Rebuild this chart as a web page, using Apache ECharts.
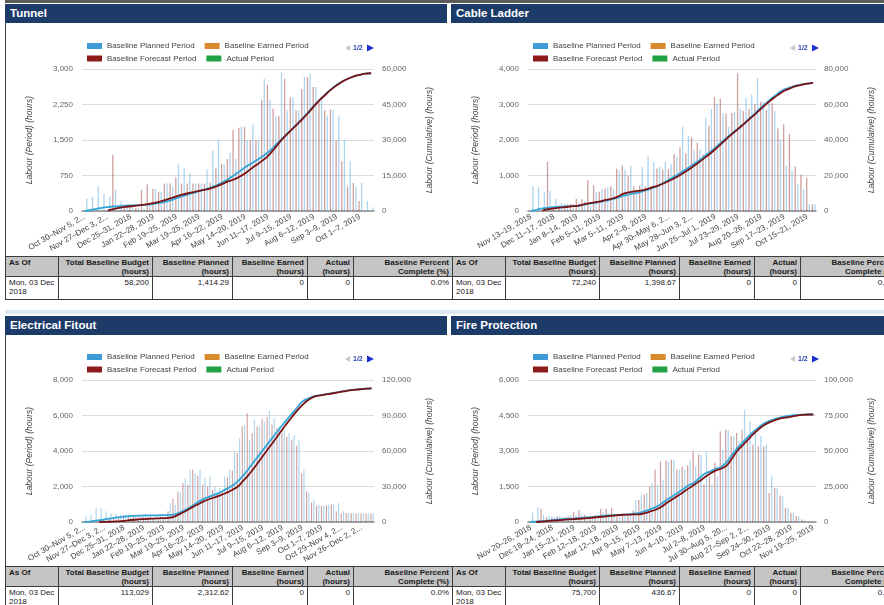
<!DOCTYPE html>
<html>
<head>
<meta charset="utf-8">
<script src="https://cdn.jsdelivr.net/npm/echarts@6.0.0/dist/echarts.min.js"></script>
<style>
html,body{margin:0;padding:0;}
body{width:884px;height:605px;overflow:hidden;position:relative;background:#fff;font-family:"Liberation Sans",Arial,sans-serif;}
.blk{position:absolute;}
.hdr{position:absolute;height:19px;line-height:19px;background:#1c3b69;color:#fff;font-weight:bold;font-size:11.5px;box-sizing:border-box;padding-left:5px;white-space:nowrap;overflow:hidden;}
.chart{position:absolute;width:442px;}
table.kpi{position:absolute;border-collapse:collapse;table-layout:fixed;width:447px;font-size:8px;color:#1a1a1a;}
table.kpi th, table.kpi td{border:1px solid #3c3c3c;padding:1px 3px 0 3px;line-height:9px;vertical-align:top;text-align:right;overflow:hidden;white-space:nowrap;}
table.kpi th{background:#c4c4c4;font-weight:bold;height:17px;}
table.kpi td{background:#fff;height:21px;}
table.kpi .l{text-align:left;}
</style>
</head>
<body>
<script>
// ---------- categories (weekly periods, Tue–Mon) ----------
const WEEKS = [
 'Oct 30–Nov 5, 2018','Nov 6–12, 2018','Nov 13–19, 2018','Nov 20–26, 2018','Nov 27–Dec 3, 2018',
 'Dec 4–10, 2018','Dec 11–17, 2018','Dec 18–24, 2018','Dec 25–31, 2018','Jan 1–7, 2019',
 'Jan 8–14, 2019','Jan 15–21, 2019','Jan 22–28, 2019','Jan 29–Feb 4, 2019','Feb 5–11, 2019',
 'Feb 12–18, 2019','Feb 19–25, 2019','Feb 26–Mar 4, 2019','Mar 5–11, 2019','Mar 12–18, 2019',
 'Mar 19–25, 2019','Mar 26–Apr 1, 2019','Apr 2–8, 2019','Apr 9–15, 2019','Apr 16–22, 2019',
 'Apr 23–29, 2019','Apr 30–May 6, 2019','May 7–13, 2019','May 14–20, 2019','May 21–27, 2019',
 'May 28–Jun 3, 2019','Jun 4–10, 2019','Jun 11–17, 2019','Jun 18–24, 2019','Jun 25–Jul 1, 2019',
 'Jul 2–8, 2019','Jul 9–15, 2019','Jul 16–22, 2019','Jul 23–29, 2019','Jul 30–Aug 5, 2019',
 'Aug 6–12, 2019','Aug 13–19, 2019','Aug 20–26, 2019','Aug 27–Sep 2, 2019','Sep 3–9, 2019',
 'Sep 10–16, 2019','Sep 17–23, 2019','Sep 24–30, 2019','Oct 1–7, 2019','Oct 8–14, 2019',
 'Oct 15–21, 2019','Oct 22–28, 2019','Oct 29–Nov 4, 2019','Nov 5–11, 2019','Nov 12–18, 2019',
 'Nov 19–25, 2019','Nov 26–Dec 2, 2019','Dec 3–9, 2019','Dec 10–16, 2019'
];
const tunnelCats = WEEKS.slice(0, 51);
const cableCats  = WEEKS.slice(2, 52);
const efCats     = WEEKS.slice(0, 59);
const fpCats     = WEEKS.slice(3, 56);

// ---------- Tunnel ----------
const tunnelPlanned = [260,300,520,360,310,450,210,100,80,60, 50,120,470,410,580,520,980,910,800,580,
 580,870,1280,1510,980,1230,1100,1780,1500,1830, 1500,2790,2350,2000,2930,2130,2400,2130,2830,2900,
 2620,2340,2020,2140,2020,1500,1050,520,590,210, 80];
const tunnelForecast = [0,0,0,0,0,1190,0,80,100,60, 440,560,470,410,580,580,700,580,580,580,
 580,580,600,900,1000,1100,1710,1760,1780,1500, 1500,2350,2670,2160,2000,2790,2400,2130,2580,2830,
 2620,2340,2130,2140,1500,1050,520,590,210,0, 0];
const tunnelCumPlanned = [0,500,900,1350,1650,1900,2100,2250,2350,2450, 2500,2700,3000,3400,3900,4500,5400,6200,7000,7700,
 8400,9100,9900,10800,12000,13400,15000,16700,18500,20000, 21500,23000,24800,27000,29500,31800,34200,36600,39100,41700,
 44400,47000,49300,51500,53300,54800,56000,56900,57500,58000, 58200];
const tunnelCumForecast = [null,null,null,null,200,800,1300,1700,2000,2300, 2550,2900,3300,3900,4600,5400,6200,6900,7500,8000,
 8500,9000,9600,10400,11400,12500,13300,14500,16000,17800, 19500,21300,23300,26000,29000,31700,34100,36400,38800,41400,
 44200,46800,49100,51300,53100,54700,55900,56900,57500,58000, 58200];

// ---------- Cable Ladder ----------
const cablePlanned = [700,670,530,560,340,220,200,200,250,280, 150,530,620,670,620,1135,1160,1275,500,1240,
 1545,1380,1240,1380,1320,1535,2370,2110,1720,1740, 2620,2875,3020,2760,2370,2800,2880,3190,3275,3750,
 3070,3040,2820,2020,1275,1145,745,620,190,190];
const cableForecast = [0,0,0,1380,100,150,180,200,345,330, 865,725,540,640,700,1190,1275,1000,700,715,
 700,700,1200,1160,1180,1600,1795,1630,2075,1925, 1600,2400,3210,3160,2745,2760,3880,2820,2880,3020,
 3070,2840,3040,2325,2440,2170,1255,1020,930,190];
const cableCumPlanned = [0,700,1450,1900,2200,2420,2550,2700,2850,3400, 4000,4500,5100,5800,6500,7400,8500,9300,10000,10700,
 11700,12900,14000,15800,17700,19500,21600,23700,25800,28000, 30500,33000,35500,38500,41300,44000,46500,49200,52300,55300,
 58300,61200,64000,66500,68500,69600,70600,71300,71800,72240];
const cableCumForecast = [null,null,300,1000,1500,1860,2200,2600,2900,3600, 4300,4800,5400,6200,6900,8000,9600,10500,11100,11500,
 12200,13200,14200,15500,17000,18600,20400,22500,24700,27000, 29500,32000,34800,37700,40700,43600,46300,49100,51900,54700,
 57700,60600,63200,65600,67700,69100,70300,71100,71700,72240];

// ---------- Electrical Fitout ----------
const efPlanned = [320,410,790,790,600,500,470,450,410,400, 380,370,350,340,330,320,300,1070,975,1670,
 2470,2940,2720,2940,2470,2570,2000,1910,2570,2940, 3970,4720,5470,4630,5750,5380,5660,6280,5850,5380,
 5190,5000,4900,4630,2940,1630,1255,975,920,975, 1000,1070,600,500,500,480,480,480,480];
const efForecast = [0,0,0,0,100,150,200,300,400,400, 350,300,280,250,200,200,200,600,1300,1720,
 2190,2100,2940,2600,2100,2000,1800,1600,1800,2500, 2900,3900,5380,6130,5000,5400,5790,5900,5500,5300,
 5000,4800,4630,4300,2750,1720,1100,920,900,950, 1000,600,500,500,500,480,480,480,480];
const efCumPlanned = [0,400,1000,1600,2100,2800,3500,4100,4500,4900, 5200,5400,5500,5600,5650,5700,5800,5900,6300,7600,
 9400,11500,14200,17000,19300,21000,22600,24200,26400,28600, 31000,34500,39000,44000,49700,55000,60500,65800,71300,76700,
 82000,87000,92000,97000,101700,104200,105800,106700,107400,108100, 108900,109600,110300,111000,111600,112000,112400,112700,113000];
const efCumForecast = [null,null,null,0,100,200,400,600,1000,1500, 1900,2200,2500,2750,2900,3100,3300,3450,4300,6200,
 8200,10600,13000,15000,17200,19000,20500,21800,23500,25200, 27500,30000,34500,39000,44200,49800,55500,61200,66800,72500,
 78300,83800,89200,94400,98800,102500,105100,106500,107300,108000, 108600,109300,110100,110800,111400,111900,112300,112700,113000];

// ---------- Fire Protection ----------
const fpPlanned = [390,630,300,250,230,240,230,280,300,350, 250,240,300,400,350,225,300,250,250,925,
 1120,1230,1650,1580,1800,2565,2635,2215,2215,2600, 2350,2850,2990,1580,1930,3060,3900,3620,3410,4740,
 4250,3900,3620,3270,1960,1440,1090,600,390,250, 110,0,0];
const fpForecast = [0,0,560,200,200,250,200,250,420,500, 300,250,300,560,560,600,300,250,300,500,
 925,1160,1500,2215,2565,2600,2635,2215,2350,2400, 2990,2850,1580,1930,2500,3830,3900,3620,3760,3900,
 3620,3270,3200,3200,1230,1440,1120,600,390,250, 110,0,0];
const fpCumPlanned = [0,300,600,900,1250,1750,2000,2250,2500,2800, 3100,3400,3800,4200,4600,4850,5000,5100,5300,5800,
 6500,7600,9000,10500,12700,15500,18000,20500,23000,25800, 27500,30800,34000,35500,37500,38500,42000,47000,51800,56000,
 60000,63600,66800,69500,71300,72600,73700,74500,75000,75400, 75600,75700,75700];
const fpCumForecast = [null,0,300,600,900,1200,1500,1800,2000,2300, 2600,2900,3300,3700,4000,4400,4800,5100,5200,5300,
 5400,6200,7400,8600,10500,13300,15800,18300,20800,23500, 26000,28600,31500,34000,36200,37500,39500,44500,50000,54000,
 58000,62000,65500,68300,70300,71800,72900,73600,74200,74900, 75400,75700,75700];

// ---------- axis scales ----------
const tunnelAxes = {leftMax: 3000, rightMax: 60000};
const cableAxes  = {leftMax: 4000, rightMax: 80000};
const efAxes     = {leftMax: 8000, rightMax: 120000};
const fpAxes     = {leftMax: 6000, rightMax: 100000};

// ---------- tables ----------
const TABLE_HEAD = [['As Of'], ['Total Baseline Budget','(hours)'], ['Baseline Planned','(hours)'],
  ['Baseline Earned','(hours)'], ['Actual','(hours)'], ['Baseline Percent','Complete (%)']];
const tunnelTable = [['Mon, 03 Dec','2018'], '58,200', '1,414.29', '0', '0', '0.0%'];
const cableTable  = [['Mon, 03 Dec','2018'], '72,240', '1,398.67', '0', '0', '0.0%'];
const efTable     = [['Mon, 03 Dec','2018'], '113,029', '2,312.62', '0', '0', '0.0%'];
const fpTable     = [['Mon, 03 Dec','2018'], '75,700', '436.67', '0', '0', '0.0%'];

const NAMES = {planned:'Baseline Planned Period', earned:'Baseline Earned Period',
  forecast:'Baseline Forecast Period', actual:'Actual Period'};
const COLORS = {planned:'#3d9bd8', earned:'#d98a2c', forecast:'#8c1c1c', actual:'#22a044',
  cumPlanned:'#34a5d8', cumForecast:'#7a1313'};

const panels = [
  {title:'Tunnel', cats:tunnelCats, planned:tunnelPlanned, forecast:tunnelForecast, cumP:tunnelCumPlanned, cumF:tunnelCumForecast, axes:tunnelAxes, table:tunnelTable,
   hdrL:5, hdrW:442, hdrT:4, chL:0, chT:24, chH:232, gL:82, gW:293, pager:345, tL:5, tT:256},
  {title:'Cable Ladder', cats:cableCats, planned:cablePlanned, forecast:cableForecast, cumP:cableCumPlanned, cumF:cableCumForecast, axes:cableAxes, table:cableTable,
   hdrL:451, hdrW:433, hdrT:4, chL:442, chT:24, chH:232, gL:86, gW:292, pager:348, tL:452, tT:256},
  {title:'Electrical Fitout', cats:efCats, planned:efPlanned, forecast:efForecast, cumP:efCumPlanned, cumF:efCumForecast, axes:efAxes, table:efTable,
   hdrL:5, hdrW:442, hdrT:316, chL:0, chT:335, chH:231, gL:82, gW:293, pager:345, tL:5, tT:566},
  {title:'Fire Protection', cats:fpCats, planned:fpPlanned, forecast:fpForecast, cumP:fpCumPlanned, cumF:fpCumForecast, axes:fpAxes, table:fpTable,
   hdrL:451, hdrW:433, hdrT:316, chL:442, chT:335, chH:231, gL:86, gW:292, pager:348, tL:452, tT:566}
];

function addBlock(l, t, w, h, bg) {
  const d = document.createElement('div');
  d.className = 'blk';
  d.style.cssText = 'left:'+l+'px;top:'+t+'px;width:'+w+'px;height:'+h+'px;background:'+bg+';';
  document.body.appendChild(d);
}
addBlock(5, 0, 879, 3, '#5c5c5c');
addBlock(5, 310, 879, 4, '#dce7f1');
addBlock(5, 23, 1, 233, '#404040');
addBlock(5, 335, 1, 231, '#404040');

const FONT = '"Liberation Sans", Arial, sans-serif';
const fmt = v => Number(v).toLocaleString('en-US');

// truncate long category labels to a fixed pixel width, like the source chart does
const LABEL_PX = 8, LABEL_MAX_W = 68.4;
const measureCtx = document.createElement('canvas').getContext('2d');
function truncLabel(s) {
  measureCtx.font = LABEL_PX + 'px "Liberation Sans", Arial, sans-serif';
  if (measureCtx.measureText(s).width <= LABEL_MAX_W) return s;
  let t = s;
  while (t.length > 1 && measureCtx.measureText(t + '...').width > LABEL_MAX_W) t = t.slice(0, -1);
  return t + '...';
}

function buildTable(p) {
  const widths = [53, 94, 80, 75, 46, 99];
  let h = '<colgroup>' + widths.map(w => '<col style="width:'+w+'px">').join('') + '</colgroup><tr>';
  TABLE_HEAD.forEach((lines, i) => { h += '<th class="'+(i===0?'l':'')+'">' + lines.join('<br>') + '</th>'; });
  h += '</tr><tr>';
  p.table.forEach((v, i) => { h += '<td class="'+(i===0?'l':'')+'">' + (Array.isArray(v) ? v.join('<br>') : v) + '</td>'; });
  h += '</tr>';
  const t = document.createElement('table');
  t.className = 'kpi';
  t.style.left = p.tL + 'px';
  t.style.top = p.tT + 'px';
  t.innerHTML = h;
  document.body.appendChild(t);
}

function buildChart(p) {
  const hdr = document.createElement('div');
  hdr.className = 'hdr';
  hdr.style.left = p.hdrL + 'px'; hdr.style.top = p.hdrT + 'px'; hdr.style.width = p.hdrW + 'px';
  hdr.textContent = p.title;
  document.body.appendChild(hdr);

  const el = document.createElement('div');
  el.className = 'chart';
  el.style.left = p.chL + 'px'; el.style.top = p.chT + 'px'; el.style.height = p.chH + 'px';
  document.body.appendChild(el);
  const chart = echarts.init(el, null, {renderer: 'canvas', width: 442, height: p.chH});

  const legendBase = {
    left: p.gL, itemWidth: 15, itemHeight: 6, itemGap: 10, icon: 'rect', selectedMode: false,
    textStyle: {fontSize: 8, color: '#444', fontFamily: FONT}
  };
  const legItem = k => ({name: NAMES[k], itemStyle: {color: COLORS[k], opacity: 1}});
  const barSeries = (k, data) => ({
    name: NAMES[k], type: 'bar', data: data, barGap: '0%', barCategoryGap: '8%',
    itemStyle: {color: COLORS[k], opacity: 0.42}, emphasis: {disabled: true}
  });
  const lineSeries = (name, data, color) => ({
    name: name, type: 'line', yAxisIndex: 1, data: data, smooth: 0.35, symbol: 'none',
    connectNulls: false, lineStyle: {color: color, width: 1.8}, itemStyle: {color: color}, z: 5
  });
  const pg = p.pager;

  chart.setOption({
    animation: false,
    textStyle: {fontFamily: FONT},
    legend: [
      Object.assign({}, legendBase, {top: 13, data: [legItem('planned'), legItem('earned')]}),
      Object.assign({}, legendBase, {top: 25.5, data: [legItem('forecast'), legItem('actual')]})
    ],
    grid: {left: p.gL, top: 45, width: p.gW, height: 142},
    xAxis: {
      type: 'category', data: p.cats, boundaryGap: true,
      axisTick: {show: false},
      axisLine: {lineStyle: {color: '#8a8a8a', width: 1.5}},
      axisLabel: {interval: 3, rotate: 30, fontSize: LABEL_PX, color: '#444', margin: 5, fontFamily: FONT,
                  formatter: truncLabel}
    },
    yAxis: [
      {type: 'value', min: 0, max: p.axes.leftMax, interval: p.axes.leftMax / 4,
       name: 'Labour (Period) (hours)', nameLocation: 'middle', nameGap: 48,
       nameTextStyle: {fontStyle: 'italic', fontSize: 8.5, color: '#444', fontFamily: FONT},
       axisLabel: {fontSize: 8, color: '#666', margin: 9, formatter: fmt},
       axisLine: {show: false}, axisTick: {show: false},
       splitLine: {lineStyle: {color: '#dcdcdc'}}},
      {type: 'value', min: 0, max: p.axes.rightMax, interval: p.axes.rightMax / 4, position: 'right',
       name: 'Labour (Cumulative) (hours)', nameLocation: 'middle', nameGap: 51,
       nameTextStyle: {fontStyle: 'italic', fontSize: 8.5, color: '#444', fontFamily: FONT},
       axisLabel: {fontSize: 8, color: '#666', margin: 8, formatter: fmt},
       axisLine: {show: false}, axisTick: {show: false}, splitLine: {show: false}}
    ],
    graphic: [
      {type: 'polygon', shape: {points: [[pg + 5, 21], [pg + 5, 27], [pg, 24]]}, style: {fill: '#c9c9c9'}},
      {type: 'text', x: pg + 8, y: 24, style: {text: '1/2', fill: '#2b47b3', font: 'bold 7px ' + FONT, verticalAlign: 'middle'}},
      {type: 'polygon', shape: {points: [[pg + 22, 20.5], [pg + 22, 27.5], [pg + 29, 24]]}, style: {fill: '#1b2fcf'}}
    ],
    series: [
      barSeries('earned', []),
      barSeries('forecast', p.forecast),
      barSeries('actual', []),
      barSeries('planned', p.planned),
      lineSeries('Baseline Planned Cumulative', p.cumP, COLORS.cumPlanned),
      lineSeries('Baseline Forecast Cumulative', p.cumF, COLORS.cumForecast)
    ]
  });
}

panels.forEach(p => { buildChart(p); buildTable(p); });
</script>
</body>
</html>
